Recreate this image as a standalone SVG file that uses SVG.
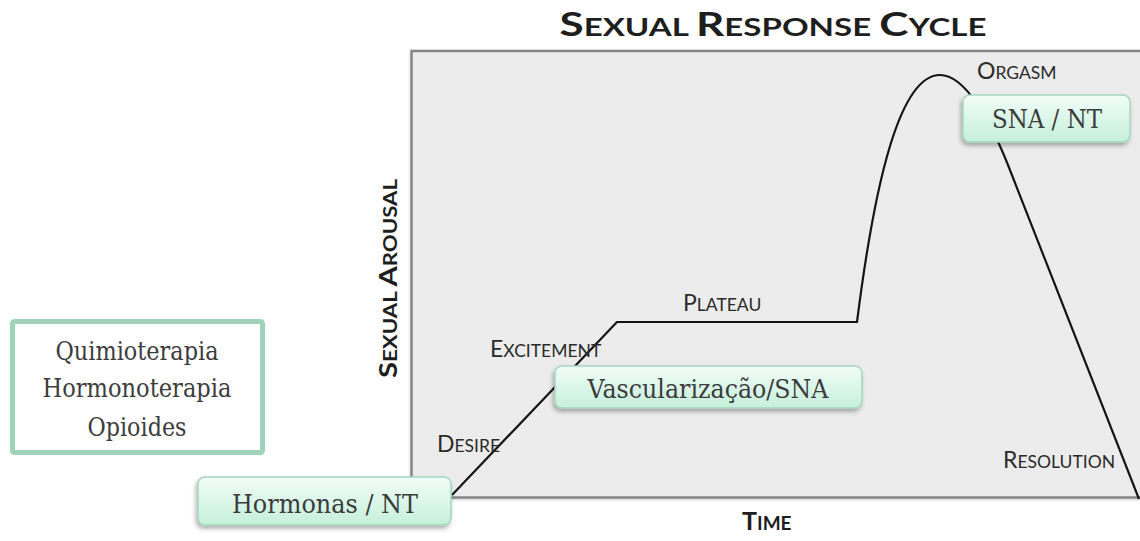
<svg xmlns="http://www.w3.org/2000/svg" width="1140" height="541" viewBox="0 0 1140 541">
  <defs>
    <style>
      .lbl { font-family: Lato, "Open Sans", sans-serif; fill: #2b2b2b; }
      .cap { font-size: 23px; }
      .sc { font-size: 17.5px; }
      .ttl { font-family: Lato, "Open Sans", sans-serif; font-weight: bold; fill: #1e1e1e; }
      .axis { font-family: Lato, "Open Sans", sans-serif; font-weight: bold; fill: #1e1e1e; }
      .node-txt { font-family: "DejaVu Serif", "Liberation Serif", serif; font-size: 25.5px; fill: #3c3c3c; }
      .node-box { fill: url(#mint); stroke: #a3d8bd; stroke-width: 1.5; filter: url(#shadow); }
      .curve { fill: none; stroke: #151515; stroke-width: 2.2; stroke-linejoin: round; }
    </style>
    <linearGradient id="mint" x1="0" y1="0" x2="0" y2="1">
      <stop offset="0" stop-color="#f1fdf7"/>
      <stop offset="1" stop-color="#c6f0db"/>
    </linearGradient>
    <filter id="shadow" x="-10%" y="-20%" width="120%" height="160%">
      <feDropShadow dx="-1.5" dy="3" stdDeviation="2" flood-color="#000" flood-opacity="0.3"/>
    </filter>
    <filter id="soft" x="-5%" y="-5%" width="110%" height="110%">
      <feDropShadow dx="0" dy="1" stdDeviation="1.5" flood-color="#000" flood-opacity="0.2"/>
    </filter>
  </defs>

  <rect width="1140" height="541" fill="#ffffff"/>

  <!-- chart title -->
  <text class="ttl" x="773" y="36" text-anchor="middle" textLength="427" lengthAdjust="spacingAndGlyphs"><tspan font-size="32">S</tspan><tspan font-size="24">EXUAL </tspan><tspan font-size="32">R</tspan><tspan font-size="24">ESPONSE </tspan><tspan font-size="32">C</tspan><tspan font-size="24">YCLE</tspan></text>

  <!-- plot area -->
  <rect x="411.5" y="51" width="760" height="446.5" fill="#ececec" stroke="#858585" stroke-width="2.5" filter="url(#soft)"/>

  <!-- axis titles -->
  <text class="axis" transform="translate(397,378) rotate(-90)" x="0" y="0" textLength="199" lengthAdjust="spacingAndGlyphs"><tspan font-size="25">S</tspan><tspan font-size="19">EXUAL </tspan><tspan font-size="25">A</tspan><tspan font-size="19">ROUSAL</tspan></text>
  <text class="axis" x="742" y="530"><tspan font-size="25">T</tspan><tspan font-size="19">IME</tspan></text>

  <!-- response curve -->
  <g id="connectors">
    <path class="curve" d="M452,495 L617,322 L857,322 C875,180 900,75 940,75 C965,75 990,120 1008,165 L1139,499"/>
  </g>

  <!-- phase labels -->
  <g id="phase-labels">
    <text class="lbl" x="437" y="452"><tspan class="cap">D</tspan><tspan class="sc">ESIRE</tspan></text>
    <text class="lbl" x="490" y="357"><tspan class="cap">E</tspan><tspan class="sc">XCITEMENT</tspan></text>
    <text class="lbl" x="683" y="311"><tspan class="cap">P</tspan><tspan class="sc">LATEAU</tspan></text>
    <text class="lbl" x="977" y="79"><tspan class="cap">O</tspan><tspan class="sc">RGASM</tspan></text>
    <text class="lbl" x="1003" y="468"><tspan class="cap">R</tspan><tspan class="sc">ESOLUTION</tspan></text>
  </g>

  <!-- treatments box -->
  <g id="treatments">
    <rect x="12.5" y="321.5" width="250" height="131" fill="#ffffff" stroke="#9fd2b9" stroke-width="5" rx="2"/>
    <text class="node-txt" x="137" y="360" text-anchor="middle" textLength="163" lengthAdjust="spacingAndGlyphs">Quimioterapia</text>
    <text class="node-txt" x="137" y="397" text-anchor="middle" textLength="189" lengthAdjust="spacingAndGlyphs">Hormonoterapia</text>
    <text class="node-txt" x="137" y="436" text-anchor="middle" textLength="99" lengthAdjust="spacingAndGlyphs">Opioides</text>
  </g>

  <!-- mechanism nodes -->
  <g id="node-hormonas">
    <rect class="node-box" x="198" y="477" width="253" height="48" rx="7"/>
    <text class="node-txt" x="325" y="513" text-anchor="middle" textLength="186" lengthAdjust="spacingAndGlyphs">Hormonas / NT</text>
  </g>
  <g id="node-vascularizacao">
    <rect class="node-box" x="555" y="366" width="307" height="42" rx="7"/>
    <text class="node-txt" x="708" y="398" text-anchor="middle" textLength="241" lengthAdjust="spacingAndGlyphs">Vascularização/SNA</text>
  </g>
  <g id="node-sna">
    <rect class="node-box" x="963" y="95" width="167" height="47" rx="7"/>
    <text class="node-txt" x="1047" y="128" text-anchor="middle" textLength="110" lengthAdjust="spacingAndGlyphs">SNA / NT</text>
  </g>
</svg>
